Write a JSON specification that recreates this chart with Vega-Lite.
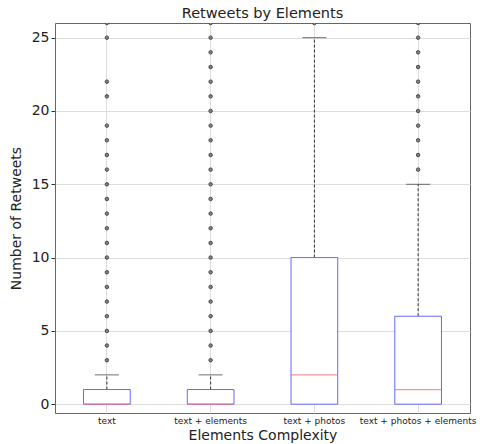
{
  "$schema": "https://vega.github.io/schema/vega-lite/v6.json",
  "width": 415,
  "height": 390,
  "autosize": "none",
  "padding": {"left": 55, "top": 23, "right": 12, "bottom": 31},
  "background": "white",
  "config": {
    "font": "DejaVu Sans",
    "view": {"stroke": "#666", "strokeWidth": 1},
    "axis": {"gridColor": "#dddddd", "gridWidth": 1, "domain": false, "tickColor": "#333", "labelColor": "#222", "titleColor": "#222", "titleFontWeight": "normal"}
  },
  "title": {"text": "Retweets by Elements", "fontSize": 14.5, "fontWeight": "normal", "color": "#222", "offset": 2},
  "datasets": {
    "stats": [
      {"group": "text", "q1": 0, "median": 0, "q3": 1, "lower": 0, "upper": 2},
      {"group": "text + elements", "q1": 0, "median": 0, "q3": 1, "lower": 0, "upper": 2},
      {"group": "text + photos", "q1": 0, "median": 2, "q3": 10, "lower": 0, "upper": 25},
      {"group": "text + photos + elements", "q1": 0, "median": 1, "q3": 6, "lower": 0, "upper": 15}
    ],
    "outliers": [
      {"group": "text", "v": 3}, {"group": "text", "v": 4}, {"group": "text", "v": 5}, {"group": "text", "v": 6},
      {"group": "text", "v": 7}, {"group": "text", "v": 8}, {"group": "text", "v": 9}, {"group": "text", "v": 10},
      {"group": "text", "v": 11}, {"group": "text", "v": 12}, {"group": "text", "v": 13}, {"group": "text", "v": 14},
      {"group": "text", "v": 15}, {"group": "text", "v": 16}, {"group": "text", "v": 17}, {"group": "text", "v": 18},
      {"group": "text", "v": 19}, {"group": "text", "v": 21}, {"group": "text", "v": 22}, {"group": "text", "v": 25},
      {"group": "text", "v": 26},
      {"group": "text + elements", "v": 3}, {"group": "text + elements", "v": 4}, {"group": "text + elements", "v": 5},
      {"group": "text + elements", "v": 6}, {"group": "text + elements", "v": 7}, {"group": "text + elements", "v": 8},
      {"group": "text + elements", "v": 9}, {"group": "text + elements", "v": 10}, {"group": "text + elements", "v": 11},
      {"group": "text + elements", "v": 12}, {"group": "text + elements", "v": 13}, {"group": "text + elements", "v": 14},
      {"group": "text + elements", "v": 15}, {"group": "text + elements", "v": 16}, {"group": "text + elements", "v": 17},
      {"group": "text + elements", "v": 18}, {"group": "text + elements", "v": 19}, {"group": "text + elements", "v": 20},
      {"group": "text + elements", "v": 21}, {"group": "text + elements", "v": 22}, {"group": "text + elements", "v": 23},
      {"group": "text + elements", "v": 24}, {"group": "text + elements", "v": 25}, {"group": "text + elements", "v": 26},
      {"group": "text + photos", "v": 26},
      {"group": "text + photos + elements", "v": 16}, {"group": "text + photos + elements", "v": 17},
      {"group": "text + photos + elements", "v": 18}, {"group": "text + photos + elements", "v": 19},
      {"group": "text + photos + elements", "v": 20}, {"group": "text + photos + elements", "v": 21},
      {"group": "text + photos + elements", "v": 22}, {"group": "text + photos + elements", "v": 23},
      {"group": "text + photos + elements", "v": 24}, {"group": "text + photos + elements", "v": 25},
      {"group": "text + photos + elements", "v": 26}
    ]
  },
  "encoding": {
    "x": {
      "field": "group", "type": "nominal", "sort": null,
      "scale": {"paddingInner": 0, "paddingOuter": 0},
      "axis": {"title": "Elements Complexity", "titleFontSize": 14, "titlePadding": 3, "labelFontSize": 9, "labelAngle": 0, "grid": true, "bandPosition": 0.5, "tickSize": 0, "labelPadding": 3}
    }
  },
  "layer": [
    {
      "data": {"name": "stats"},
      "mark": {"type": "rule", "strokeDash": [3, 2], "color": "#333", "strokeWidth": 1},
      "encoding": {
        "y": {"field": "q3", "type": "quantitative", "scale": {"domain": [-0.6, 26], "nice": false, "zero": false},
          "axis": {"title": "Number of Retweets", "titleFontSize": 14, "labelFontSize": 14, "values": [0, 5, 10, 15, 20, 25], "grid": true, "tickSize": 4, "titlePadding": 8}},
        "y2": {"field": "upper"}
      }
    },
    {
      "data": {"name": "stats"},
      "mark": {"type": "bar", "fill": "white", "stroke": "#6666ff", "strokeWidth": 1, "width": {"band": 0.45}},
      "encoding": {
        "y": {"field": "q1", "type": "quantitative"},
        "y2": {"field": "q3"}
      }
    },
    {
      "data": {"name": "stats"},
      "mark": {"type": "tick", "color": "#333", "size": 24, "thickness": 1},
      "encoding": {"y": {"field": "upper", "type": "quantitative"}}
    },
    {
      "data": {"name": "stats"},
      "mark": {"type": "tick", "color": "#ff6666", "size": 47, "thickness": 1.2},
      "encoding": {"y": {"field": "median", "type": "quantitative"}}
    },
    {
      "data": {"name": "outliers"},
      "mark": {"type": "point", "filled": false, "stroke": "#444", "fill": "#888", "fillOpacity": 1, "size": 12, "strokeWidth": 1, "clip": true},
      "encoding": {"y": {"field": "v", "type": "quantitative"}}
    }
  ]
}
